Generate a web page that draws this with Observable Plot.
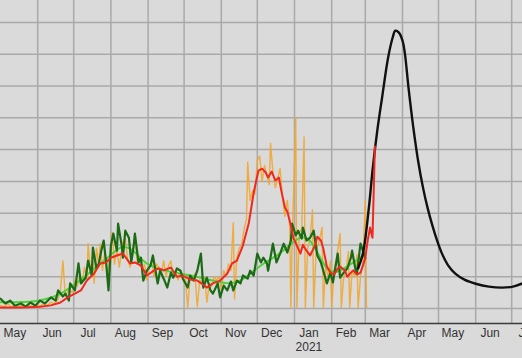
<!DOCTYPE html>
<html>
<head>
<meta charset="utf-8">
<script src="https://cdn.jsdelivr.net/npm/d3@7"></script>
<script src="https://cdn.jsdelivr.net/npm/@observablehq/plot@0.6"></script>
<style>
  html, body { margin: 0; padding: 0; background: #dadada; overflow: hidden; }
  #chart svg { display: block; background: #dadada; }
</style>
</head>
<body>
<div id="chart"></div>
<script>
// Start date; all series use day offsets from it
const startDate = "2020-05-01";

// Orange: daily reported values (thousands)
const orangeDay = [0,3,6,9,12,15,18,21,24,27,30,33,36,39,42,45,48,50,52,54,57,60,62,64,66,68,70,72,73,75,77,78,80,82,83,85,87,89,91,93,95,97,99,102,104,106,108,110,112,114,116,118,120,122,124,126,128,130,132,134,136,138,140,142,144,146,148,150,152,154,156,158,160,162,164,166,168,170,172,174,176,178,180,182,184,186,188,190,192,194,195,197,199,201,203,205,206,208,210,212,214,216,218,220,222,224,225,227,229,231,233,235,237,239,241,242,243,246,247,249,251,253,254,256,258,260,261,263,266,268,269,271,273,275,276,278,280,283,284,286,288,290,291,293,295,297,298,300,302,304,305];
const orangeVal = [0.1,0.05,0.15,0.05,0.1,0.03,0.12,0.05,0.1,0.05,0.12,0.08,0.15,0.1,0.2,0.15,0.3,0.6,1.5,0.4,0.6,0.5,0.9,0.7,1.0,0.8,1.3,0.9,2.04,1.2,1.5,0.8,1.9,1.3,2.04,1.2,1.8,1.0,1.6,2.4,1.4,1.9,1.3,2.1,2.2,1.5,1.3,1.8,2.36,1.4,1.6,1.2,1.4,0.9,1.3,1.5,1.0,1.4,1.3,1.1,1.5,1.0,1.35,1.5,1.0,1.1,0.9,1.2,0.9,1.0,0.02,1.0,0.9,1.1,0.05,0.9,0.8,1.0,0.2,0.8,0.7,1.0,0.9,1.0,0.6,1.2,1.0,1.4,1.2,2.7,0.3,1.6,1.9,2.0,2.5,2.8,4.6,3.4,3.7,3.6,4.65,4.8,4.0,4.5,4.2,3.9,5.2,4.3,3.8,4.1,4.4,3.5,2.9,3.4,2.6,0.03,2.0,6.0,0.03,2.4,2.5,5.4,0.03,1.9,2.2,3.1,0.03,1.8,2.2,2.55,0.03,1.4,1.0,1.5,0.03,1.2,1.6,2.36,0.03,1.0,1.2,1.8,0.03,1.2,1.0,1.7,0.03,1.0,1.4,3.4,0.03];

// Red: smoothed reported values
const redDay = [0,17,33,42,50,56,62,67,72,78,83,88,92,97,102,108,112,117,122,128,132,136,142,147,152,158,164,169,172,177,183,189,193,197,202,207,211,215,218,221,223,226,229,232,234,237,239,242,244,247,250,252,255,258,262,264,267,269,272,275,278,281,283,287,289,292,294,297,300,302,304,306,308,310,312];
const redVal = [0.03,0.03,0.06,0.1,0.19,0.35,0.47,0.57,0.88,1.1,1.42,1.45,1.6,1.67,1.73,1.42,1.45,1.35,1.04,1.2,1.26,1.2,1.29,1.0,1.04,0.91,0.88,0.75,0.66,0.79,0.88,1.1,1.42,1.51,1.98,2.7,3.65,4.34,4.4,4.28,4.12,4.31,4.03,4.12,3.71,3.18,3.05,2.61,2.23,1.98,1.73,2.01,1.82,1.67,1.98,2.26,2.14,1.89,1.32,1.13,1.07,1.26,1.32,1.2,1.0,1.13,1.2,1.07,1.13,1.35,1.6,2.14,2.55,2.23,5.1];

// Dark green: daily second series
const greenDay = [0,4,8,12,17,21,25,29,33,37,42,46,48,52,54,57,58,62,65,67,71,73,76,77,80,82,84,86,88,90,92,94,97,98,101,102,104,107,109,111,112,115,117,119,122,125,127,131,133,136,139,142,144,147,150,152,156,158,161,164,167,169,172,175,177,181,183,186,189,192,194,197,200,202,206,208,211,214,217,219,222,223,226,227,230,233,236,239,242,243,246,248,251,252,255,258,261,264,267,269,272,275,277,281,283,286,289,292,293,296,297,300,302,304];
const greenVal = [0.31,0.16,0.25,0.09,0.16,0.06,0.19,0.09,0.25,0.16,0.35,0.25,0.57,0.38,0.47,0.25,0.79,0.57,1.42,0.79,0.97,1.51,1.04,1.92,1.26,1.42,1.82,2.14,1.45,0.57,1.98,2.36,1.82,2.67,1.98,1.6,2.45,2.23,1.45,1.98,2.36,1.45,1.6,0.88,1.19,1.35,1.67,0.79,1.19,0.94,0.66,1.13,0.97,1.26,1.19,0.94,0.66,1.04,0.88,1.19,1.73,0.66,0.97,0.57,0.47,0.79,0.35,0.72,0.57,0.85,0.57,0.88,0.79,1.04,0.94,1.19,1.04,1.73,1.45,1.6,1.42,1.19,1.82,2.04,1.45,1.73,2.04,1.76,2.14,2.67,2.3,2.45,2.2,2.55,2.14,2.23,2.45,1.67,1.45,1.19,0.79,1.13,0.82,1.73,0.97,1.13,1.26,1.6,1.82,1.19,1.1,2.04,1.82,1.57];

// Light green: smoothed second series
const limeDay = [0,30,50,70,90,100,110,120,135,150,170,190,200,210,220,230,240,250,258,265,272,280,290,300,304];
const limeVal = [0.2,0.2,0.4,1.0,1.6,2.0,1.9,1.4,1.2,1.1,0.95,0.75,0.85,1.15,1.45,1.65,1.95,2.3,2.2,1.7,1.2,1.1,1.35,1.6,1.7];

// Black: projection
const blackDay = [298,302,307,310,314,318,323,327,329,332,335,337,340,344,348,352,356,360,364,368,373,379,387,396,407,418,427,435];
const blackVal = [1.26,1.73,3.18,4.34,5.6,6.64,7.89,8.55,8.74,8.68,8.43,8.02,6.95,5.7,4.65,3.82,3.15,2.6,2.12,1.72,1.36,1.1,0.9,0.78,0.69,0.66,0.69,0.79];

// Axis ticks
const gridValues = [0,1,2,3,4,5,6,7,8,9];
const monthStarts = ["2020-06-01","2020-07-01","2020-08-01","2020-09-01","2020-10-01","2020-11-01","2020-12-01","2021-01-01","2021-02-01","2021-03-01","2021-04-01","2021-05-01","2021-06-01","2021-07-01"];
const labelDates = ["2020-05-13","2020-06-13","2020-07-13","2020-08-13","2020-09-13","2020-10-13","2020-11-13","2020-12-13","2021-01-13","2021-02-13","2021-03-13","2021-04-13","2021-05-13","2021-06-13","2021-07-13"];
const labelTexts = ["May","Jun","Jul","Aug","Sep","Oct","Nov","Dec","Jan\n2021","Feb","Mar","Apr","May","Jun","Jul"];
const xDomain = ["2020-05-01","2021-07-10"];
const yDomain = [-0.47, 9.69];

const t0 = new Date(startDate);
const toRows = (days, vals) => days.map((d, i) => ({date: d3.utcDay.offset(t0, d), value: vals[i]}));
const orange = toRows(orangeDay, orangeVal);
const red = toRows(redDay, redVal);
const green = toRows(greenDay, greenVal);
const lime = toRows(limeDay, limeVal);
const black = toRows(blackDay, blackVal);
const labels = labelDates.map((d, i) => ({date: new Date(d), text: labelTexts[i]}));

const chart = Plot.plot({
  width: 522,
  height: 358,
  marginLeft: 0,
  marginRight: 0,
  marginTop: 0,
  marginBottom: 35,
  style: {background: "#dadada", fontFamily: "Liberation Sans, Arial, sans-serif", fontSize: "12px", color: "#333"},
  x: {type: "utc", domain: xDomain.map(d => new Date(d)), axis: null},
  y: {domain: yDomain, axis: null},
  marks: [
    Plot.ruleY(gridValues, {stroke: "#a9a9a9", strokeWidth: 1.5}),
    Plot.ruleX(monthStarts.map(d => new Date(d)), {stroke: "#a9a9a9", strokeWidth: 1.5}),
    Plot.ruleY([yDomain[0]], {stroke: "#3a3a3a", strokeWidth: 1.5}),
    Plot.text(labels, {x: "date", y: yDomain[0], text: "text", dy: 4, lineAnchor: "top", fill: "#333", fontSize: 12, lineHeight: 1.15}),
    Plot.line(orange, {x: "date", y: "value", stroke: "#efa630", strokeWidth: 1.4, strokeOpacity: 0.9}),
    Plot.line(lime, {x: "date", y: "value", stroke: "#4fcf3a", strokeWidth: 2, curve: "basis"}),
    Plot.line(green, {x: "date", y: "value", stroke: "#1b6a16", strokeWidth: 2.2}),
    Plot.line(black, {x: "date", y: "value", stroke: "#111", strokeWidth: 2.4, curve: "catmull-rom"}),
    Plot.line(red, {x: "date", y: "value", stroke: "#f0281e", strokeWidth: 2})
  ]
});
document.getElementById("chart").appendChild(chart);
</script>
</body>
</html>
